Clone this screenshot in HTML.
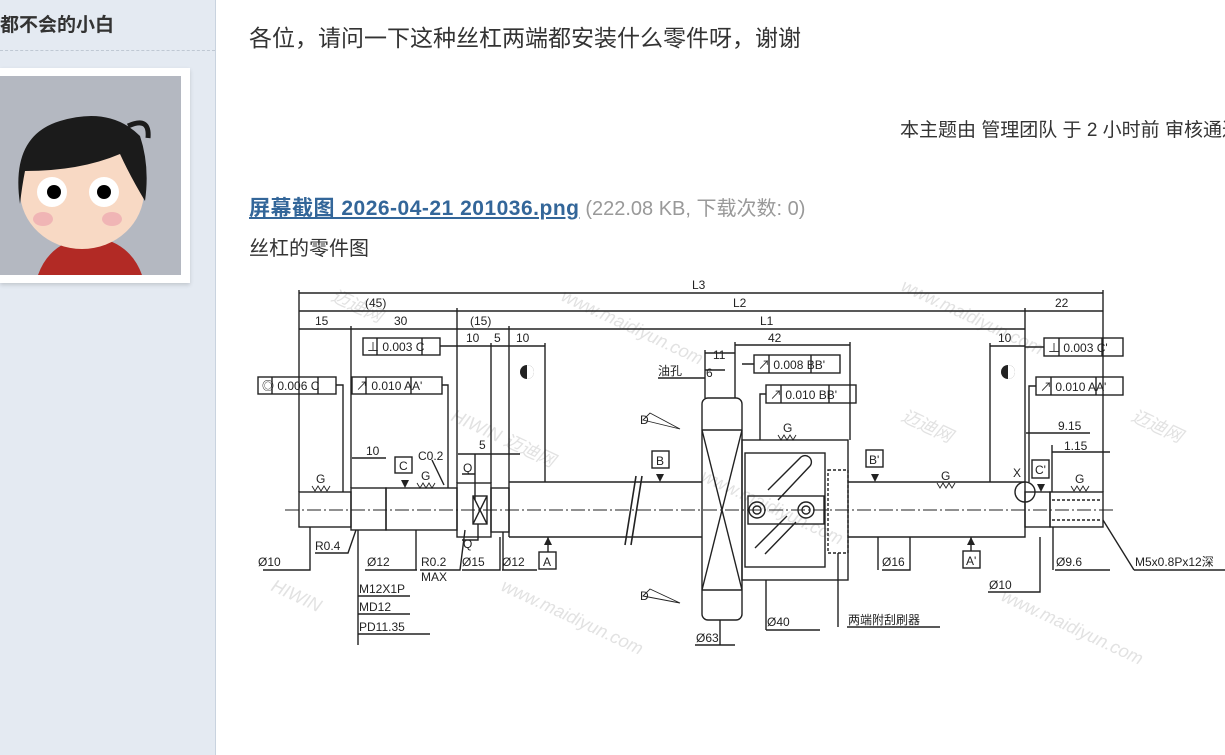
<!DOCTYPE html>
<html><head><meta charset="utf-8"><style>
html,body{margin:0;padding:0;width:1225px;height:755px;overflow:hidden;background:#fff;font-family:"Liberation Sans","Noto Sans CJK SC",sans-serif;}
.side{position:absolute;left:0;top:0;width:215px;height:755px;background:#e4eaf2;border-right:1px solid #c9d3df;}
.name{position:absolute;left:0;top:10px;font-size:19px;font-weight:bold;color:#333;}
.dash{position:absolute;left:0;top:50px;width:215px;border-top:1px dashed #bfc8d3;}
.frame{position:absolute;left:0;top:68px;width:190px;height:215px;background:#fff;box-shadow:0 2px 4px rgba(0,0,0,.15);}
.av{position:absolute;left:0;top:8px;width:181px;height:199px;background:#b4b8c1;overflow:hidden;}
.t{position:absolute;white-space:nowrap;color:#333;}
</style></head><body>
<div class="side">
<div class="name">都不会的小白</div>
<div class="dash"></div>
<div class="frame"><div class="av">
<svg width="181" height="199">
<path d="M38 199 Q50 165 90 160 Q130 165 142 199Z" fill="#b22a25"/>
<rect x="78" y="140" width="22" height="26" fill="#efc2a3"/>
<ellipse cx="82" cy="115" rx="62" ry="58" fill="#f8d9c4"/>
<path d="M20 128 Q10 60 60 45 Q110 30 140 60 Q150 90 145 125 Q130 100 120 78 Q80 95 25 95 Q22 110 20 128Z" fill="#1b1b1b"/>
<path d="M128 50 Q150 40 148 62" stroke="#1b1b1b" stroke-width="5" fill="none"/>
<circle cx="52" cy="116" r="15" fill="#fff"/><circle cx="54" cy="116" r="7" fill="#000"/>
<circle cx="104" cy="116" r="15" fill="#fff"/><circle cx="104" cy="116" r="7" fill="#000"/>
<ellipse cx="43" cy="143" rx="10" ry="7" fill="#f0b5b5"/><ellipse cx="112" cy="143" rx="10" ry="7" fill="#f0b5b5"/>
</svg></div></div>
</div>
<div class="t" style="left:249px;top:19px;font-size:23px;">各位，请问一下这种丝杠两端都安装什么零件呀，谢谢</div>
<div class="t" style="left:900px;top:115px;font-size:19px;">本主题由 管理团队 于 2 小时前 审核通过</div>
<div class="t" style="left:249px;top:192px;font-size:21px;"><span style="color:#336699;font-weight:bold;text-decoration:underline;letter-spacing:0.5px;">屏幕截图 2026-04-21 201036.png</span> <span style="color:#999;font-size:20px;">(222.08 KB, 下载次数: 0)</span></div>
<div class="t" style="left:249px;top:232px;font-size:20px;">丝杠的零件图</div>

<svg style="position:absolute;left:0;top:0" width="1225" height="755" font-family="Liberation Sans,Noto Sans CJK SC,sans-serif" font-size="12" fill="#222">
<g fill="#e2e2e2" font-size="18" font-style="italic">
<text transform="translate(330,300) rotate(25)">迈迪网</text>
<text transform="translate(560,300) rotate(25)">www.maidiyun.com</text>
<text transform="translate(900,290) rotate(25)">www.maidiyun.com</text>
<text transform="translate(450,420) rotate(25)">HIWIN 迈迪网</text>
<text transform="translate(900,420) rotate(25)">迈迪网</text>
<text transform="translate(1130,420) rotate(25)">迈迪网</text>
<text transform="translate(270,590) rotate(25)">HIWIN</text>
<text transform="translate(500,590) rotate(25)">www.maidiyun.com</text>
<text transform="translate(1000,600) rotate(25)">www.maidiyun.com</text>
<text transform="translate(700,480) rotate(25)">www.maidiyun.com</text>
</g>
<g stroke="#222" stroke-width="1.4" fill="none">
<line x1="299" y1="293" x2="1103" y2="293"/>
<line x1="299" y1="311" x2="1103" y2="311"/>
<line x1="299" y1="329" x2="457" y2="329"/>
<line x1="457" y1="329" x2="1025" y2="329"/>
<line x1="457" y1="346" x2="545" y2="346"/>
<line x1="735" y1="345" x2="850" y2="345"/>
<line x1="990" y1="346" x2="1025" y2="346"/>
<line x1="705" y1="353" x2="735" y2="353"/>
<line x1="705" y1="370" x2="725" y2="370"/>
<line x1="299" y1="290" x2="299" y2="492"/>
<line x1="351" y1="326" x2="351" y2="488"/>
<line x1="457" y1="308" x2="457" y2="483"/>
<line x1="509" y1="326" x2="509" y2="482"/>
<line x1="491" y1="343" x2="491" y2="483"/>
<line x1="545" y1="343" x2="545" y2="482"/>
<line x1="1025" y1="308" x2="1025" y2="482"/>
<line x1="1103" y1="290" x2="1103" y2="492"/>
<line x1="990" y1="343" x2="990" y2="482"/>
<line x1="850" y1="342" x2="850" y2="440"/>
<line x1="735" y1="342" x2="735" y2="398"/>
<line x1="705" y1="350" x2="705" y2="398"/>
<rect x="299" y="492" width="52" height="35"/>
<rect x="351" y="488" width="35" height="42"/>
<rect x="386" y="488" width="71" height="42"/>
<rect x="457" y="483" width="34" height="54"/>
<rect x="491" y="488" width="18" height="44"/>
<path d="M509 482 H702 M509 537 H702 M509 482 V537"/>
<rect x="702" y="398" width="40" height="222" rx="6"/>
<rect x="742" y="440" width="106" height="140"/>
<rect x="745" y="453" width="80" height="114"/>
<rect x="828" y="470" width="20" height="83" stroke-dasharray="3 2"/>
<rect x="748" y="496" width="76" height="28"/>
<circle cx="757" cy="510" r="8"/><circle cx="757" cy="510" r="4"/>
<circle cx="806" cy="510" r="8"/><circle cx="806" cy="510" r="4"/>
<path d="M768 490 L800 458 A6 6 0 0 1 810 466 L778 500" />
<path d="M755 548 L787 516 M765 554 L796 522"/>
<path d="M848 482 H1025 V537 H848"/>
<rect x="1025" y="492" width="25" height="35"/>
<rect x="1050" y="492" width="53" height="35"/>
<path d="M1052 500 H1100 M1052 520 H1100" stroke-dasharray="3 2"/>
<circle cx="1025" cy="492" r="10"/>
<path d="M702 430 L742 590 M742 430 L702 590 M702 430 H742 M702 590 H742"/>
<path d="M625 545 L636 476 M631 545 L642 476" stroke-width="1.6"/>
<line x1="285" y1="510" x2="1115" y2="510" stroke-dasharray="14 3 2 3" stroke-width="0.9"/>
<rect x="473" y="496" width="14" height="28"/><path d="M473 496 L487 524 M487 496 L473 524"/>
<rect x="363" y="338" width="77" height="17"/><path d="M377 338 V355 M422 338 V355 M440 346 H457"/>
<rect x="258" y="377" width="78" height="17"/><path d="M272 377 V394 M318 377 V394 M336 385 H343 V492"/>
<rect x="352" y="377" width="90" height="17"/><path d="M366 377 V394 M411 377 V394 M442 385 H448 V488"/>
<rect x="754" y="355" width="86" height="18"/><path d="M769 355 V373 M811 355 V373 M754 364 H742"/>
<rect x="766" y="385" width="90" height="18"/><path d="M781 385 V403 M829 385 V403 M766 394 H760 V440"/>
<rect x="1044" y="338" width="79" height="18"/><path d="M1059 338 V356 M1102 338 V356 M1044 347 H1025"/>
<rect x="1036" y="377" width="87" height="18"/><path d="M1051 377 V395 M1096 377 V395 M1036 386 H1029 V482"/>
<rect x="395" y="457" width="17" height="16"/>
<rect x="652" y="451" width="17" height="17"/>
<rect x="539" y="552" width="17" height="17"/><path d="M548 537 V552"/>
<rect x="866" y="450" width="17" height="17"/>
<rect x="963" y="551" width="17" height="17"/><path d="M971 537 V551"/>
<rect x="1032" y="460" width="17" height="18"/>
<path d="M263 570 H310 V527"/>
<path d="M315 553 H348 L356 530"/>
<path d="M358 530 V645"/><path d="M358 596 H410 M358 614 H410 M358 634 H430"/>
<path d="M365 570 H417 M420 570 H460 L465 530 M416 530 V570"/>
<path d="M462 570 H500 V537"/><path d="M502 570 H537 M503 532 V570"/>
<path d="M882 570 H910 V537 M878 537 V570"/>
<path d="M988 592 H1040 V537"/>
<path d="M1055 570 H1110 M1053 527 V570"/>
<path d="M1134 570 H1225 M1134 570 L1103 520"/>
<path d="M766 630 H820 M766 580 V630"/>
<path d="M847 627 H940 M838 553 V627"/>
<path d="M695 645 H735"/><path d="M720 620 V645"/>
<path d="M658 378 H705"/>
<path d="M1026 433 H1090 M1052 452 H1110 M1052 445 V492"/>
<path d="M458 454 H520 M475 454 V500 M462 474 H475 M462 540 H478 V524"/>
<path d="M352 458 H386"/>
<path d="M432 460 L444 485"/>
<path d="M643 420 L680 429 L650 413 Z M643 596 L680 603 L650 589 Z" stroke-width="0.9"/>
</g>
<g fill="#222">
<path d="M405 488 l-4 -8 h8z M660 482 l-4 -8 h8z M548 537 l-4 8 h8z M875 482 l-4 -8 h8z M971 537 l-4 8 h8z M1041 492 l-4 -8 h8z"/>
<circle cx="527" cy="372" r="7"/>
<circle cx="1008" cy="372" r="7"/>
</g>
<path d="M527 365 A7 7 0 0 1 527 379 Z M1008 365 A7 7 0 0 1 1008 379 Z" fill="#fff"/>
<g font-size="12">
<text x="692" y="289">L3</text><text x="733" y="307">L2</text><text x="760" y="325">L1</text>
<text x="365" y="307">(45)</text><text x="315" y="325">15</text><text x="394" y="325">30</text>
<text x="470" y="325">(15)</text><text x="1055" y="307">22</text><text x="768" y="342">42</text>
<text x="466" y="342">10</text><text x="494" y="342">5</text><text x="516" y="342">10</text>
<text x="998" y="342">10</text><text x="713" y="359">11</text><text x="706" y="377">6</text>
<text x="367" y="351">⊥ 0.003  C</text><text x="262" y="390">◎ 0.006  C</text>
<text x="356" y="390">↗ 0.010  AA'</text>
<text x="758" y="369">↗ 0.008  BB'</text><text x="770" y="399">↗ 0.010  BB'</text>
<text x="1048" y="352">⊥ 0.003  C'</text><text x="1040" y="391">↗ 0.010  AA'</text>
<text x="399" y="470">C</text><text x="656" y="465">B</text><text x="543" y="566">A</text>
<text x="869" y="464">B'</text><text x="966" y="565">A'</text><text x="1035" y="474">C'</text>
<text x="366" y="455">10</text><text x="418" y="460">C0.2</text><text x="479" y="449">5</text>
<text x="463" y="472">Q</text><text x="463" y="548">Q</text>
<text x="316" y="483">G</text><text x="421" y="480">G</text><text x="783" y="432">G</text>
<text x="941" y="480">G</text><text x="1075" y="483">G</text>
<text x="258" y="566">Ø10</text><text x="315" y="550">R0.4</text><text x="367" y="566">Ø12</text>
<text x="421" y="566">R0.2</text><text x="421" y="581">MAX</text><text x="462" y="566">Ø15</text>
<text x="502" y="566">Ø12</text><text x="359" y="593">M12X1P</text><text x="359" y="611">MD12</text>
<text x="359" y="631">PD11.35</text><text x="696" y="642">Ø63</text><text x="767" y="626">Ø40</text>
<text x="848" y="624">两端附刮刷器</text><text x="882" y="566">Ø16</text><text x="989" y="589">Ø10</text>
<text x="1056" y="566">Ø9.6</text><text x="1135" y="566">M5x0.8Px12深</text>
<text x="658" y="375">油孔</text><text x="640" y="424">D</text><text x="640" y="600">D</text>
<text x="1013" y="477">X</text><text x="1058" y="430">9.15</text><text x="1064" y="450">1.15</text>
</g>
<g fill="none" stroke="#222" stroke-width="0.9">
<path d="M312 486 l3 5 3 -5 3 5 3 -5 3 5 3 -5 M417 483 l3 5 3 -5 3 5 3 -5 3 5 3 -5 M778 435 l3 5 3 -5 3 5 3 -5 3 5 3 -5 M937 483 l3 5 3 -5 3 5 3 -5 3 5 3 -5 M1071 486 l3 5 3 -5 3 5 3 -5 3 5 3 -5"/>
</g>
</svg>
</body></html>
